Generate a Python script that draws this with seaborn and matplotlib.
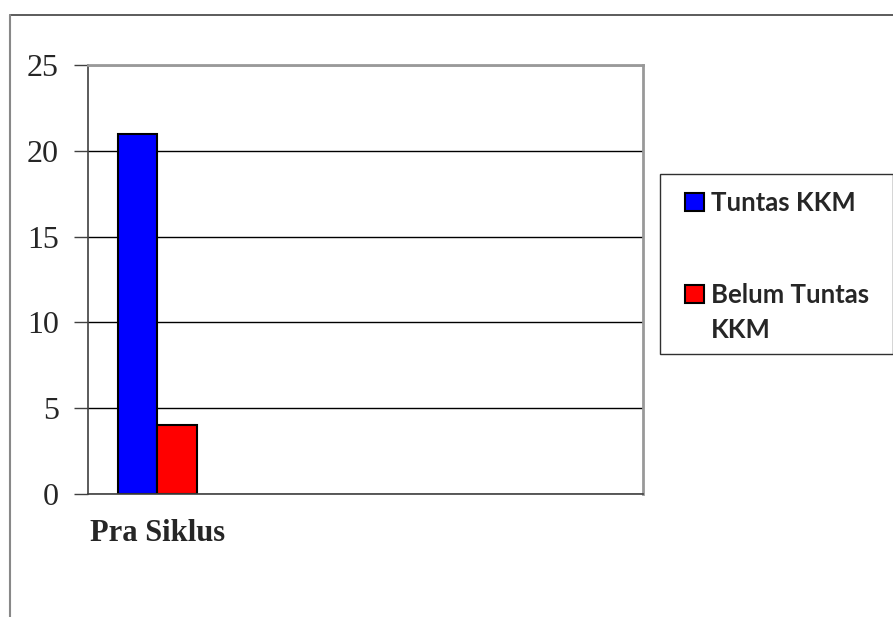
import numpy as np
import pandas as pd
import matplotlib
matplotlib.use("Agg")
import matplotlib.pyplot as plt
from matplotlib.patches import Rectangle
from matplotlib.lines import Line2D
import seaborn as sns

# data
categories = ["Pra Siklus", "slot 2", "slot 3", "slot 4"]
tick_labels = ["Pra Siklus", "", "", ""]
series = ["Tuntas KKM", "Belum Tuntas KKM"]
tuntas = [21]
belum_tuntas = [4]
colors = {"Tuntas KKM": "#0000FF", "Belum Tuntas KKM": "#FF0000"}

df = pd.DataFrame({
    "siklus": categories[:len(tuntas)] * 2,
    "status": [series[0]] * len(tuntas) + [series[1]] * len(belum_tuntas),
    "jumlah": tuntas + belum_tuntas,
})

sns.set_style("white")
plt.rcParams["font.family"] = ["Liberation Serif", "DejaVu Sans"]

W, H = 893, 617
fig = plt.figure(figsize=(W / 100, H / 100), dpi=100)
ax = fig.add_axes([88 / W, 1 - 494 / H, (643 - 88) / W, (494 - 65) / H])

sns.barplot(data=df, x="siklus", y="jumlah", hue="status", order=categories,
            hue_order=series, palette=colors, width=0.57, edgecolor="black",
            linewidth=1.5, saturation=1, ax=ax)

ax.set_xlim(-0.5, len(categories) - 0.5)
ax.set_ylim(0, 25)
ax.set_yticks(np.arange(0, 26, 5))
ax.set_xticks(np.arange(len(categories)))
ax.set_xticklabels(tick_labels, fontsize=22, fontweight="bold")
ax.set_xticks(np.arange(len(categories) + 1) - 0.5, minor=True)
ax.tick_params(axis="x", which="major", length=0, pad=18)
ax.tick_params(axis="x", which="minor", length=8, width=1, color="#404040", direction="out")
ax.tick_params(axis="y", length=10, width=1, color="#404040", direction="out",
               labelsize=23, pad=11, left=True)
ax.set_xlabel("")
ax.set_ylabel("")

ax.yaxis.grid(True, color="black", linewidth=1)
ax.set_axisbelow(True)
for side in ["left", "bottom"]:
    ax.spines[side].set_color("#404040")
    ax.spines[side].set_linewidth(1.2)
for side in ["top", "right"]:
    ax.spines[side].set_color("#999999")
    ax.spines[side].set_linewidth(2)

# legend on the right, in its own box
handles, _ = ax.get_legend_handles_labels()
ax.get_legend().remove()
fig.patches.append(Rectangle((660 / W, 1 - 354 / H), (W - 660) / W, (354 - 174) / H,
                             transform=fig.transFigure, fill=False,
                             edgecolor="#303030", linewidth=1))
leg_font = {"family": "Lato", "weight": "bold", "size": 18.5}
leg = fig.legend(handles, ["Tuntas KKM", "Belum Tuntas"], loc="upper left",
                 bbox_to_anchor=(685 / W, 1 - 191 / H), frameon=False,
                 prop=leg_font, handlelength=0.72, handleheight=0.72,
                 handletextpad=0.3, labelspacing=2.65, borderpad=0, borderaxespad=0)

# second line of the wrapped label, under "Belum Tuntas"
fig.canvas.draw()
bb = leg.get_texts()[1].get_window_extent().transformed(fig.transFigure.inverted())
fig.text(bb.x0, bb.y0 - 35 / H + (bb.y1 - bb.y0) / 2, "KKM", va="center", ha="left",
         **{"fontfamily": "Lato", "fontweight": "bold", "fontsize": 18.5})

# outer chart-area border (top and left visible)
fig.add_artist(Line2D([10 / W, 1], [1 - 15 / H, 1 - 15 / H], transform=fig.transFigure,
                      color="#404040", linewidth=1.2))
fig.add_artist(Line2D([10 / W, 10 / W], [0, 1 - 15 / H], transform=fig.transFigure,
                      color="#888888", linewidth=1.5))

fig.savefig("out.png", dpi=100)
